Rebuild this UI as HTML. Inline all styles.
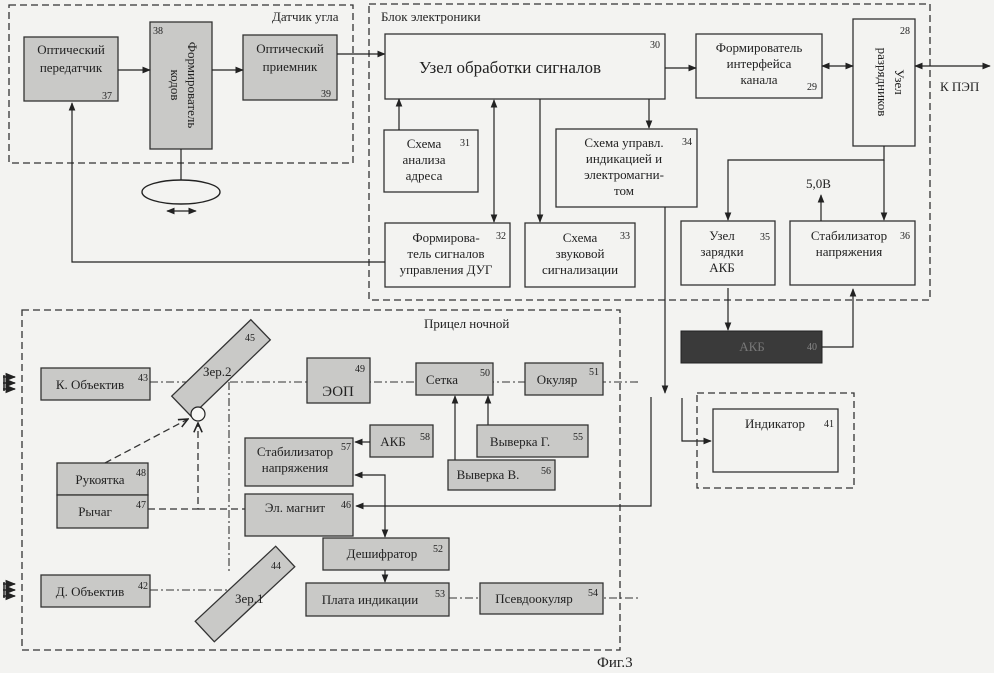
<!DOCTYPE html>
<html><head><meta charset="utf-8"><style>
html,body{margin:0;padding:0;background:#f3f3f1;}
svg{display:block;}
text{font-family:"Liberation Serif","DejaVu Serif",serif;fill:#222;}
.g{fill:#c9c9c7;stroke:#333;stroke-width:1.3;}
.w{fill:#f3f3f1;stroke:#333;stroke-width:1.3;}
.l{stroke:#222;stroke-width:1.2;fill:none;}
.d{stroke:#333;stroke-width:1.3;fill:none;stroke-dasharray:7,4;}
.dd{stroke:#333;stroke-width:1.1;fill:none;stroke-dasharray:8,3,2,3;}
.n{font-size:10px;}
.t{font-size:13px;}
</style></head><body>
<svg width="994" height="673" viewBox="0 0 994 673" xmlns="http://www.w3.org/2000/svg">
<defs>
<marker id="a" viewBox="0 0 10 10" refX="9" refY="5" markerWidth="7" markerHeight="7" orient="auto-start-reverse"><path d="M0,1 L10,5 L0,9 z" fill="#222"/></marker>
<marker id="o" viewBox="0 0 10 10" refX="9" refY="5" markerWidth="8" markerHeight="8" orient="auto"><path d="M0,1 L9,5 L0,9" fill="none" stroke="#222" stroke-width="1.5"/></marker>
</defs>
<rect x="0" y="0" width="994" height="673" fill="#f3f3f1"/>

<!-- Датчик угла -->
<rect x="9" y="5" width="344" height="158" class="d"/>
<text x="272" y="21" class="t">Датчик угла</text>
<rect x="24" y="37" width="94" height="64" class="g"/>
<text x="71" y="54" class="t" text-anchor="middle">Оптический</text>
<text x="71" y="72" class="t" text-anchor="middle">передатчик</text>
<text x="102" y="99" class="n">37</text>
<rect x="150" y="22" width="62" height="127" class="g"/>
<text x="153" y="34" class="n">38</text>
<text transform="translate(188,85) rotate(90)" class="t" text-anchor="middle">Формирователь</text>
<text transform="translate(171,85) rotate(90)" class="t" text-anchor="middle">кодов</text>
<rect x="243" y="35" width="94" height="65" class="g"/>
<text x="290" y="53" class="t" text-anchor="middle">Оптический</text>
<text x="290" y="71" class="t" text-anchor="middle">приемник</text>
<text x="321" y="97" class="n">39</text>
<line x1="118" y1="70" x2="150" y2="70" class="l" marker-end="url(#a)"/>
<line x1="212" y1="70" x2="243" y2="70" class="l" marker-end="url(#a)"/>
<line x1="181" y1="149" x2="181" y2="180" class="l"/>
<ellipse cx="181" cy="192" rx="39" ry="12" class="l" style="stroke-width:1.4"/>
<line x1="167" y1="211" x2="196" y2="211" class="l" marker-start="url(#a)" marker-end="url(#a)"/>

<!-- Блок электроники -->
<rect x="369" y="4" width="561" height="296" class="d"/>
<text x="381" y="21" class="t">Блок электроники</text>
<line x1="337" y1="54" x2="385" y2="54" class="l" marker-end="url(#a)"/>
<rect x="385" y="34" width="280" height="65" class="w"/>
<text x="510" y="73" style="font-size:17px" text-anchor="middle">Узел обработки сигналов</text>
<text x="650" y="48" class="n">30</text>
<rect x="696" y="34" width="126" height="64" class="w"/>
<text x="759" y="52" class="t" text-anchor="middle">Формирователь</text>
<text x="759" y="68" class="t" text-anchor="middle">интерфейса</text>
<text x="759" y="84" class="t" text-anchor="middle">канала</text>
<text x="807" y="90" class="n">29</text>
<rect x="853" y="19" width="62" height="127" class="w"/>
<text x="900" y="34" class="n">28</text>
<text transform="translate(895,82) rotate(90)" class="t" text-anchor="middle">Узел</text>
<text transform="translate(878,82) rotate(90)" class="t" text-anchor="middle">разрядников</text>
<line x1="665" y1="68" x2="696" y2="68" class="l" marker-end="url(#a)"/>
<line x1="822" y1="66" x2="853" y2="66" class="l" marker-start="url(#a)" marker-end="url(#a)"/>
<line x1="915" y1="66" x2="990" y2="66" class="l" marker-start="url(#a)" marker-end="url(#a)"/>
<text x="940" y="91" class="t">К ПЭП</text>

<rect x="384" y="130" width="94" height="62" class="w"/>
<text x="424" y="148" class="t" text-anchor="middle">Схема</text>
<text x="424" y="164" class="t" text-anchor="middle">анализа</text>
<text x="424" y="180" class="t" text-anchor="middle">адреса</text>
<text x="460" y="146" class="n">31</text>
<line x1="399" y1="130" x2="399" y2="99" class="l" marker-end="url(#a)"/>
<line x1="494" y1="100" x2="494" y2="222" class="l" marker-start="url(#a)" marker-end="url(#a)"/>
<line x1="540" y1="99" x2="540" y2="222" class="l" marker-end="url(#a)"/>
<line x1="649" y1="99" x2="649" y2="128" class="l" marker-end="url(#a)"/>

<rect x="385" y="223" width="125" height="64" class="w"/>
<text x="446" y="242" class="t" text-anchor="middle">Формирова-</text>
<text x="446" y="258" class="t" text-anchor="middle">тель сигналов</text>
<text x="446" y="274" class="t" text-anchor="middle">управления ДУГ</text>
<text x="496" y="239" class="n">32</text>
<rect x="525" y="223" width="110" height="64" class="w"/>
<text x="580" y="242" class="t" text-anchor="middle">Схема</text>
<text x="580" y="258" class="t" text-anchor="middle">звуковой</text>
<text x="580" y="274" class="t" text-anchor="middle">сигнализации</text>
<text x="620" y="239" class="n">33</text>
<rect x="556" y="129" width="141" height="78" class="w"/>
<text x="624" y="147" class="t" text-anchor="middle">Схема управл.</text>
<text x="624" y="163" class="t" text-anchor="middle">индикацией и</text>
<text x="624" y="179" class="t" text-anchor="middle">электромагни-</text>
<text x="624" y="195" class="t" text-anchor="middle">том</text>
<text x="682" y="145" class="n">34</text>
<polyline points="385,262 72,262 72,103" class="l" marker-end="url(#a)"/>

<polyline points="884,146 884,160 728,160 728,220" class="l" marker-end="url(#a)"/>
<line x1="884" y1="160" x2="884" y2="220" class="l" marker-end="url(#a)"/>
<rect x="681" y="221" width="94" height="64" class="w"/>
<text x="722" y="240" class="t" text-anchor="middle">Узел</text>
<text x="722" y="256" class="t" text-anchor="middle">зарядки</text>
<text x="722" y="272" class="t" text-anchor="middle">АКБ</text>
<text x="760" y="240" class="n">35</text>
<rect x="790" y="221" width="125" height="64" class="w"/>
<text x="849" y="240" class="t" text-anchor="middle">Стабилизатор</text>
<text x="849" y="256" class="t" text-anchor="middle">напряжения</text>
<text x="900" y="239" class="n">36</text>
<line x1="821" y1="221" x2="821" y2="195" class="l" marker-end="url(#a)"/>
<text x="806" y="188" class="t">5,0В</text>

<line x1="728" y1="288" x2="728" y2="330" class="l" marker-end="url(#a)"/>
<rect x="681" y="331" width="141" height="32" fill="#3a3a3a" stroke="#222"/>
<text x="752" y="351" class="t" text-anchor="middle" style="fill:#777">АКБ</text>
<text x="807" y="350" class="n" style="fill:#888">40</text>
<polyline points="822,347 853,347 853,289" class="l" marker-end="url(#a)"/>

<line x1="665" y1="207" x2="665" y2="393" class="l" marker-end="url(#a)"/>
<polyline points="682,398 682,441 711,441" class="l" marker-end="url(#a)"/>
<polyline points="651,397 651,506 356,506" class="l" marker-end="url(#a)"/>

<rect x="697" y="393" width="157" height="95" class="d"/>
<rect x="713" y="409" width="125" height="63" class="w"/>
<text x="745" y="428" class="t">Индикатор</text>
<text x="824" y="427" class="n">41</text>

<!-- Прицел ночной -->
<rect x="22" y="310" width="598" height="340" class="d"/>
<text x="424" y="328" class="t">Прицел ночной</text>

<g class="l" style="stroke-width:1.5">
<line x1="3" y1="377" x2="15" y2="377" marker-end="url(#a)"/><line x1="3" y1="383" x2="15" y2="383" marker-end="url(#a)"/><line x1="3" y1="389" x2="15" y2="389" marker-end="url(#a)"/><line x1="4" y1="375" x2="4" y2="391"/>
<line x1="3" y1="584" x2="15" y2="584" marker-end="url(#a)"/><line x1="3" y1="590" x2="15" y2="590" marker-end="url(#a)"/><line x1="3" y1="596" x2="15" y2="596" marker-end="url(#a)"/><line x1="4" y1="582" x2="4" y2="598"/>
</g>

<line x1="150" y1="382" x2="640" y2="382" class="dd"/>
<line x1="229" y1="382" x2="229" y2="572" class="dd"/>
<line x1="150" y1="590" x2="230" y2="590" class="dd"/>
<line x1="449" y1="598" x2="640" y2="598" class="dd"/>

<rect x="41" y="368" width="109" height="32" class="g"/>
<text x="90" y="389" class="t" text-anchor="middle">К. Объектив</text>
<text x="138" y="381" class="n">43</text>
<rect x="41" y="575" width="109" height="32" class="g"/>
<text x="90" y="596" class="t" text-anchor="middle">Д. Объектив</text>
<text x="138" y="589" class="n">42</text>

<g transform="translate(221,368) rotate(-44)"><rect x="-55" y="-14" width="110" height="28" class="g"/></g>
<text x="203" y="376" class="t">Зер.2</text>
<text x="245" y="341" class="n">45</text>
<circle cx="198" cy="414" r="7" fill="#f6f6f4" stroke="#222" stroke-width="1.2"/>
<g transform="translate(245,594) rotate(-43)"><rect x="-55" y="-14" width="110" height="28" class="g"/></g>
<text x="235" y="603" class="t">Зер.1</text>
<text x="271" y="569" class="n">44</text>

<rect x="307" y="358" width="63" height="45" class="g"/>
<text x="338" y="396" style="font-size:15px" text-anchor="middle">ЭОП</text>
<text x="355" y="372" class="n">49</text>
<rect x="416" y="363" width="77" height="32" class="g"/>
<text x="442" y="384" class="t" text-anchor="middle">Сетка</text>
<text x="480" y="376" class="n">50</text>
<rect x="525" y="363" width="78" height="32" class="g"/>
<text x="557" y="384" class="t" text-anchor="middle">Окуляр</text>
<text x="589" y="375" class="n">51</text>

<rect x="57" y="463" width="91" height="32" class="g"/>
<text x="100" y="484" class="t" text-anchor="middle">Рукоятка</text>
<text x="136" y="476" class="n">48</text>
<rect x="57" y="495" width="91" height="33" class="g"/>
<text x="95" y="516" class="t" text-anchor="middle">Рычаг</text>
<text x="136" y="508" class="n">47</text>
<line x1="105" y1="463" x2="188" y2="419" class="d" marker-end="url(#o)"/>
<polyline points="148,509 198,509 198,423" class="d" marker-end="url(#o)"/>
<line x1="198" y1="509" x2="245" y2="509" class="d"/>

<rect x="245" y="438" width="108" height="48" class="g"/>
<text x="295" y="456" class="t" text-anchor="middle">Стабилизатор</text>
<text x="295" y="472" class="t" text-anchor="middle">напряжения</text>
<text x="341" y="450" class="n">57</text>
<rect x="370" y="425" width="63" height="32" class="g"/>
<text x="393" y="446" class="t" text-anchor="middle">АКБ</text>
<text x="420" y="440" class="n">58</text>
<line x1="370" y1="442" x2="355" y2="442" class="l" marker-end="url(#a)"/>

<line x1="455" y1="460" x2="455" y2="396" class="l" marker-end="url(#a)"/>
<line x1="488" y1="425" x2="488" y2="396" class="l" marker-end="url(#a)"/>
<rect x="477" y="425" width="111" height="32" class="g"/>
<text x="520" y="446" class="t" text-anchor="middle">Выверка Г.</text>
<text x="573" y="440" class="n">55</text>
<rect x="448" y="460" width="107" height="30" class="g"/>
<text x="488" y="479" class="t" text-anchor="middle">Выверка В.</text>
<text x="541" y="474" class="n">56</text>

<rect x="245" y="494" width="108" height="42" class="g"/>
<text x="295" y="512" class="t" text-anchor="middle">Эл. магнит</text>
<text x="341" y="508" class="n">46</text>

<polyline points="355,475 385,475 385,537" class="l" marker-start="url(#a)" marker-end="url(#a)"/>
<rect x="323" y="538" width="126" height="32" class="g"/>
<text x="382" y="558" class="t" text-anchor="middle">Дешифратор</text>
<text x="433" y="552" class="n">52</text>
<line x1="385" y1="570" x2="385" y2="582" class="l" marker-end="url(#a)"/>
<rect x="306" y="583" width="143" height="33" class="g"/>
<text x="370" y="604" class="t" text-anchor="middle">Плата индикации</text>
<text x="435" y="597" class="n">53</text>
<rect x="480" y="583" width="123" height="31" class="g"/>
<text x="534" y="603" class="t" text-anchor="middle">Псевдоокуляр</text>
<text x="588" y="596" class="n">54</text>

<text x="597" y="667" style="font-size:15px">Фиг.3</text>
</svg>
</body></html>
